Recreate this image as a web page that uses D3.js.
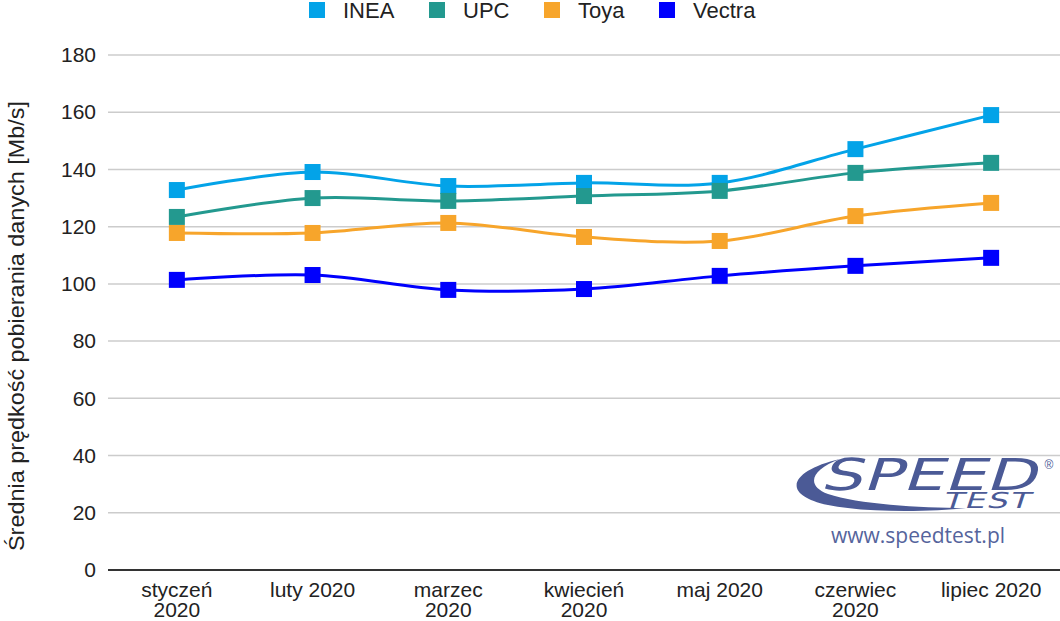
<!DOCTYPE html>
<html>
<head>
<meta charset="utf-8">
<script src="https://cdn.jsdelivr.net/npm/d3@7"></script>
<style>
  body { margin: 0; background: #fff; }
  svg { display: block; font-family: "Liberation Sans", Arial, sans-serif; }
</style>
</head>
<body>
<div id="chart"></div>
<script>
// dane
var months = ["styczeń 2020", "luty 2020", "marzec 2020", "kwiecień 2020", "maj 2020", "czerwiec 2020", "lipiec 2020"];
var monthLines = [["styczeń", "2020"], ["luty 2020"], ["marzec", "2020"], ["kwiecień", "2020"], ["maj 2020"], ["czerwiec", "2020"], ["lipiec 2020"]];
var seriesNames = ["INEA", "UPC", "Toya", "Vectra"];
var seriesColors = ["#03a3e8", "#23998f", "#f7a52b", "#0000fd"];
var inea = [132.8, 139.1, 134.2, 135.3, 135.3, 147.1, 159.0];
var upc = [123.4, 130.0, 129.0, 130.7, 132.5, 138.8, 142.3];
var toya = [117.8, 117.8, 121.3, 116.4, 115.0, 123.7, 128.3];
var vectra = [101.4, 103.1, 97.9, 98.2, 102.8, 106.3, 109.1];
var yTicks = [0, 20, 40, 60, 80, 100, 120, 140, 160, 180];

var allSeries = [inea, upc, toya, vectra];

var width = 1060, height = 621;
var svg = d3.select("#chart").append("svg")
    .attr("width", width)
    .attr("height", height);

var x = d3.scaleBand()
    .domain(months)
    .range([109, 1059]);

var y = d3.scaleLinear()
    .domain([0, 180])
    .range([570, 55]);

// siatka
svg.append("g")
    .selectAll("line")
    .data(yTicks.filter(function (d) { return d > 0; }))
    .enter()
    .append("line")
    .attr("x1", 108)
    .attr("x2", 1060)
    .attr("y1", function (d) { return y(d); })
    .attr("y2", function (d) { return y(d); })
    .attr("stroke", "#cccccc")
    .attr("stroke-width", 1.5);

// oś Y
var yAxis = svg.append("g")
    .attr("transform", "translate(108,0)")
    .call(d3.axisLeft(y).tickValues(yTicks).tickSize(0).tickPadding(12));
yAxis.select(".domain").remove();
yAxis.selectAll("text")
    .attr("font-size", 21)
    .attr("font-family", "Liberation Sans, Arial, sans-serif")
    .attr("fill", "#222");

// linia zera
svg.append("line")
    .attr("x1", 108)
    .attr("x2", 1060)
    .attr("y1", y(0))
    .attr("y2", y(0))
    .attr("stroke", "#333")
    .attr("stroke-width", 2);

// oś X
var xAxis = svg.append("g")
    .attr("transform", "translate(0," + y(0) + ")")
    .call(d3.axisBottom(x).tickSize(0).tickFormat(""));
xAxis.select(".domain").remove();
xAxis.selectAll(".tick")
    .each(function (d, i) {
        var t = d3.select(this).append("text")
            .attr("text-anchor", "middle")
            .attr("font-size", 21)
            .attr("fill", "#222")
            .attr("y", 27);
        monthLines[i].forEach(function (line, j) {
            t.append("tspan")
                .attr("x", 0)
                .attr("dy", j === 0 ? 0 : 20)
                .text(line);
        });
    });

// tytuł osi Y
svg.append("text")
    .attr("transform", "translate(24,326) rotate(-90)")
    .attr("text-anchor", "middle")
    .attr("font-size", 22)
    .attr("fill", "#222")
    .attr("textLength", 450)
    .attr("lengthAdjust", "spacingAndGlyphs")
    .text("Średnia prędkość pobierania danych [Mb/s]");

// logo
var logoColor = "#4b5a96";
var logo = svg.append("g");
logo.append("path")
    .attr("d", "M840,459 C792,470 778,494 828,505 C868,513 930,512 966,508 C918,508 858,504 828,494 C806,486 810,470 840,459 Z")
    .attr("fill", logoColor);
logo.append("text")
    .attr("transform", "translate(820,490) skewX(-18) scale(1.5,1)")
    .attr("font-size", 44)
    .attr("font-family", "DejaVu Sans, sans-serif")
    .attr("fill", logoColor)
    .text("SPEED");
logo.append("text")
    .attr("transform", "translate(942,508) skewX(-18) scale(1.5,1)")
    .attr("font-size", 22)
    .attr("letter-spacing", 1)
    .attr("font-family", "DejaVu Sans, sans-serif")
    .attr("fill", logoColor)
    .text("TEST");
logo.append("text")
    .attr("x", 1049)
    .attr("y", 469)
    .attr("text-anchor", "middle")
    .attr("font-size", 12)
    .attr("fill", logoColor)
    .text("®");
logo.append("text")
    .attr("x", 918)
    .attr("y", 543)
    .attr("text-anchor", "middle")
    .attr("font-size", 21)
    .attr("font-family", "Open Sans, sans-serif")
    .attr("fill", "#55649c")
    .text("www.speedtest.pl");

// linie
var line = d3.line()
    .x(function (d, i) { return x(months[i]) + x.bandwidth() / 2; })
    .y(function (d) { return y(d); })
    .curve(d3.curveCatmullRom.alpha(0.5));

allSeries.forEach(function (values, s) {
    svg.append("path")
        .datum(values)
        .attr("d", line)
        .attr("fill", "none")
        .attr("stroke", seriesColors[s])
        .attr("stroke-width", 3);
});

allSeries.forEach(function (values, s) {
    svg.append("g")
        .selectAll("rect")
        .data(values)
        .enter()
        .append("rect")
        .attr("x", function (d, i) { return x(months[i]) + x.bandwidth() / 2 - 8; })
        .attr("y", function (d) { return y(d) - 8; })
        .attr("width", 16)
        .attr("height", 16)
        .attr("fill", seriesColors[s]);
});

// legenda
var legendX = [309, 429, 544, 659];
var legend = svg.append("g");
seriesNames.forEach(function (name, i) {
    legend.append("rect")
        .attr("x", legendX[i])
        .attr("y", 2)
        .attr("width", 16)
        .attr("height", 16)
        .attr("fill", seriesColors[i]);
    legend.append("text")
        .attr("x", legendX[i] + 34)
        .attr("y", 18)
        .attr("font-size", 22)
        .attr("fill", "#222")
        .text(name);
});
</script>
</body>
</html>
